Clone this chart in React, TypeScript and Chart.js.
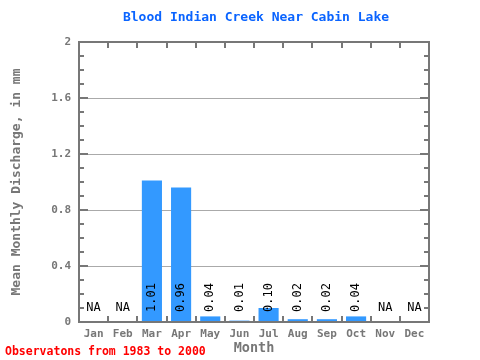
import React, { useEffect, useRef } from "react";
import { Chart, registerables } from "chart.js";

Chart.register(...registerables);

const months = ["Jan", "Feb", "Mar", "Apr", "May", "Jun", "Jul", "Aug", "Sep", "Oct", "Nov", "Dec"];
const discharge: (number | null)[] = [null, null, 1.01, 0.96, 0.04, 0.01, 0.1, 0.02, 0.02, 0.04, null, null];
const valueLabels = ["NA", "NA", "1.01", "0.96", "0.04", "0.01", "0.10", "0.02", "0.02", "0.04", "NA", "NA"];
const yTicks = [0, 0.4, 0.8, 1.2, 1.6, 2];
const minorStep = 0.1;

const titleText = "Blood Indian Creek Near Cabin Lake";
const yTitle = "Mean Monthly Discharge, in mm";
const xTitle = "Month";
const footnote = "Observatons from 1983 to 2000";

const MONO = '"DejaVu Sans Mono", "Liberation Mono", monospace';
const AXIS = "#777777";

const decorPlugin = {
  id: "decor",
  beforeDatasetsDraw(chart: any) {
    const { ctx, chartArea: a, scales } = chart;
    const y = scales.y;
    ctx.save();
    ctx.strokeStyle = "#aaaaaa";
    ctx.lineWidth = 1;
    yTicks.forEach((v) => {
      if (v <= 0 || v >= 2) return;
      const py = Math.round(y.getPixelForValue(v)) + 0.5;
      ctx.beginPath();
      ctx.moveTo(a.left, py);
      ctx.lineTo(a.right, py);
      ctx.stroke();
    });
    ctx.restore();
  },
  afterDraw(chart: any) {
    const { ctx, chartArea: a, scales } = chart;
    const x = scales.x;
    const y = scales.y;
    ctx.save();
    ctx.strokeStyle = AXIS;
    ctx.lineWidth = 2;
    ctx.strokeRect(a.left, a.top, a.right - a.left, a.bottom - a.top);
    for (let i = 0; i <= 20; i++) {
      const v = i * minorStep;
      const py = Math.round(y.getPixelForValue(v));
      const major = i % 4 === 0;
      const len = major ? 9 : 5;
      ctx.beginPath();
      ctx.moveTo(a.left, py);
      ctx.lineTo(a.left + len, py);
      ctx.moveTo(a.right, py);
      ctx.lineTo(a.right - len, py);
      ctx.stroke();
    }
    const cw = (a.right - a.left) / months.length;
    for (let i = 1; i < months.length; i++) {
      const px = Math.round(a.left + i * cw);
      ctx.beginPath();
      ctx.moveTo(px, a.bottom);
      ctx.lineTo(px, a.bottom - 6);
      ctx.moveTo(px, a.top);
      ctx.lineTo(px, a.top + 6);
      ctx.stroke();
    }
    ctx.fillStyle = "#000000";
    ctx.font = `12px ${MONO}`;
    months.forEach((m, i) => {
      const cx = x.getPixelForValue(i);
      const label = valueLabels[i];
      if (discharge[i] === null) {
        ctx.textAlign = "center";
        ctx.textBaseline = "middle";
        ctx.fillText(label, cx, a.bottom - 14);
      } else {
        ctx.save();
        ctx.translate(cx, a.bottom - 10);
        ctx.rotate(-Math.PI / 2);
        ctx.textAlign = "left";
        ctx.textBaseline = "middle";
        ctx.fillText(label, 0, 0);
        ctx.restore();
      }
    });
    ctx.fillStyle = "#0a64ff";
    ctx.font = `bold 13px ${MONO}`;
    ctx.textAlign = "center";
    ctx.textBaseline = "middle";
    ctx.fillText(titleText, 256, 18);
    ctx.fillStyle = AXIS;
    ctx.font = `bold 13.5px ${MONO}`;
    ctx.fillText(xTitle, (a.left + a.right) / 2, 348);
    ctx.save();
    ctx.translate(17, (a.top + a.bottom) / 2);
    ctx.rotate(-Math.PI / 2);
    ctx.font = `bold 13px ${MONO}`;
    ctx.fillText(yTitle, 0, 0);
    ctx.restore();
    ctx.fillStyle = "#ff0000";
    ctx.font = `bold 11.5px ${MONO}`;
    ctx.textAlign = "left";
    ctx.fillText(footnote, 5, 352);
    ctx.restore();
  },
};

export default function App() {
  const ref = useRef<HTMLCanvasElement | null>(null);
  useEffect(() => {
    if (!ref.current) return;
    const chart = new Chart(ref.current, {
      type: "bar",
      data: {
        labels: months,
        datasets: [
          {
            data: discharge,
            backgroundColor: "#3399ff",
            borderWidth: 0,
            barPercentage: 0.69,
            categoryPercentage: 1,
          },
        ],
      },
      options: {
        responsive: false,
        animation: false,
        layout: { padding: { left: 0, top: 42, right: 51, bottom: 0 } },
        plugins: { legend: { display: false }, tooltip: { enabled: false }, title: { display: false } },
        scales: {
          x: {
            grid: { display: false, drawTicks: false },
            border: { display: false },
            ticks: {
              color: AXIS,
              font: { family: MONO, size: 11, weight: "bold" },
              padding: 6,
              maxRotation: 0,
              autoSkip: false,
            },
            afterFit: (s: any) => {
              s.height = 38;
            },
          },
          y: {
            min: 0,
            max: 2,
            grid: { display: false, drawTicks: false },
            border: { display: false },
            afterBuildTicks: (s: any) => {
              s.ticks = yTicks.map((v) => ({ value: v }));
            },
            ticks: {
              color: AXIS,
              font: { family: MONO, size: 11, weight: "bold" },
              padding: 8,
              callback: (v: any) => String(+Number(v).toFixed(1)),
            },
            afterFit: (s: any) => {
              s.width = 79;
            },
          },
        },
      },
      plugins: [decorPlugin],
    });
    return () => chart.destroy();
  }, []);
  return (
    <div style={{ position: "absolute", left: 0, top: 0, width: 480, height: 360, background: "#fff" }}>
      <canvas ref={ref} width={480} height={360} />
    </div>
  );
}
